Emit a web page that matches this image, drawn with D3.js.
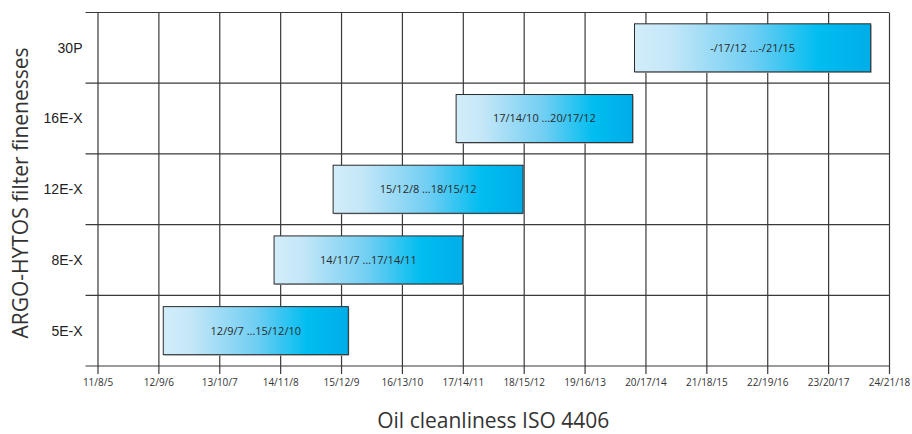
<!DOCTYPE html>
<html>
<head>
<meta charset="utf-8">
<script src="https://cdn.jsdelivr.net/npm/d3@7"></script>
<style>
  body { margin: 0; background: #fff; }
  svg { display: block; }
</style>
</head>
<body>
<svg class="rangeChart"></svg>
<script>
// ISO 4406 codes along the bottom
var isoCodes = ['11/8/5', '12/9/6', '13/10/7', '14/11/8', '15/12/9', '16/13/10', '17/14/11',
  '18/15/12', '19/16/13', '20/17/14', '21/18/15', '22/19/16', '23/20/17', '24/21/18'];

// filter finenesses, top to bottom
var filters = ['30P', '16E-X', '12E-X', '8E-X', '5E-X'];

// range start / end in code steps (0 = 11/8/5)
var rangeStart = [8.82, 5.89, 3.87, 2.90, 1.08];
var rangeEnd = [12.70, 8.79, 6.99, 6.00, 4.12];
var rangeLabels = ['-/17/12 \u2026-/21/15', '17/14/10 \u202620/17/12', '15/12/8 \u202618/15/12',
  '14/11/7 \u202617/14/11', '12/9/7 \u202615/12/10'];

var svgWidth = 912, svgHeight = 434;
var margin = { top: 12.5, right: 23, bottom: 68, left: 97.5 },
  width = svgWidth - margin.left - margin.right,
  height = svgHeight - margin.top - margin.bottom;

var svg = d3.select('.rangeChart')
  .attr('width', svgWidth)
  .attr('height', svgHeight);

var defs = svg.append('defs');
var grad = defs.append('linearGradient')
  .attr('id', 'barFill')
  .attr('x1', '0%').attr('x2', '100%')
  .attr('y1', '0%').attr('y2', '0%');
grad.append('stop').attr('offset', '0%').attr('stop-color', '#d3edfa');
grad.append('stop').attr('offset', '15%').attr('stop-color', '#c4e7f8');
grad.append('stop').attr('offset', '50%').attr('stop-color', '#70cef3');
grad.append('stop').attr('offset', '78%').attr('stop-color', '#00bdf0');
grad.append('stop').attr('offset', '100%').attr('stop-color', '#00ade8');

var chart = svg.append('g')
  .attr('transform', 'translate(' + margin.left + ',' + margin.top + ')');

var x = d3.scaleLinear()
  .domain([0, isoCodes.length - 1])
  .range([0, width]);

var y = d3.scaleBand()
  .domain(filters)
  .range([0, height])
  .paddingInner(0)
  .paddingOuter(0);

// horizontal grid lines (row boundaries)
var rowEdges = filters.map(function(f) { return y(f); }).concat([height]);
chart.selectAll('.hgrid')
  .data(rowEdges)
  .enter().append('line')
  .attr('class', 'hgrid')
  .attr('x1', -12)
  .attr('x2', width)
  .attr('y1', function(d) { return d; })
  .attr('y2', function(d) { return d; })
  .style('stroke', '#3a3a3a')
  .style('stroke-width', 1.2);

// vertical grid lines + ticks via the axis
var xAxis = chart.append('g')
  .attr('class', 'x-axis')
  .attr('transform', 'translate(0,' + height + ')')
  .call(d3.axisBottom(x)
    .tickValues(d3.range(isoCodes.length))
    .tickFormat(function(i) { return isoCodes[i]; })
    .tickSize(8)
    .tickPadding(5));

xAxis.select('.domain').remove();
xAxis.selectAll('.tick line')
  .attr('y1', -height)
  .style('stroke', '#3a3a3a')
  .style('stroke-width', 1.2);
xAxis.selectAll('.tick text')
  .style('font-family', '"Open Sans", sans-serif')
  .style('font-size', '10px')
  .style('fill', '#333');

// category labels
chart.selectAll('.cat')
  .data(filters)
  .enter().append('text')
  .attr('class', 'cat')
  .attr('x', -15)
  .attr('y', function(d) { return y(d) + y.bandwidth() / 2; })
  .attr('dy', '0.35em')
  .style('text-anchor', 'end')
  .style('font-family', '"Liberation Sans", Arial, sans-serif')
  .style('font-size', '14px')
  .style('fill', '#222')
  .text(function(d) { return d; });

var barH = y.bandwidth() * 0.68;

// range bars with slight shadow
var bars = chart.selectAll('.range')
  .data(filters)
  .enter().append('g')
  .attr('class', 'range');

bars.append('rect')
  .attr('x', function(d, i) { return x(rangeStart[i]) + 1; })
  .attr('y', function(d) { return y(d) + (y.bandwidth() - barH) / 2 + 1; })
  .attr('width', function(d, i) { return x(rangeEnd[i]) - x(rangeStart[i]); })
  .attr('height', barH)
  .style('fill', '#bbb');

bars.append('rect')
  .attr('x', function(d, i) { return x(rangeStart[i]); })
  .attr('y', function(d) { return y(d) + (y.bandwidth() - barH) / 2; })
  .attr('width', function(d, i) { return x(rangeEnd[i]) - x(rangeStart[i]); })
  .attr('height', barH)
  .style('fill', 'url(#barFill)')
  .style('stroke', '#2b2b2b')
  .style('stroke-width', 1);

bars.append('text')
  .attr('x', function(d, i) { return (x(rangeStart[i]) + x(rangeEnd[i])) / 2; })
  .attr('y', function(d) { return y(d) + y.bandwidth() / 2; })
  .attr('dy', '0.35em')
  .style('text-anchor', 'middle')
  .style('font-family', '"Open Sans", sans-serif')
  .style('font-size', '11px')
  .style('fill', '#2a2a2a')
  .text(function(d, i) { return rangeLabels[i]; });

// axis titles
svg.append('text')
  .attr('transform', 'translate(' + (margin.left + width / 2) + ',' + 428 + ')')
  .style('text-anchor', 'middle')
  .style('font-family', '"Open Sans", sans-serif')
  .style('font-size', '21px')
  .style('fill', '#333')
  .text('Oil cleanliness ISO 4406');

svg.append('text')
  .attr('transform', 'translate(28,' + 193 + ') rotate(-90)')
  .style('text-anchor', 'middle')
  .style('font-family', '"Open Sans", sans-serif')
  .style('font-size', '21px')
  .style('fill', '#333')
  .text('ARGO-HYTOS filter finenesses');
</script>
</body>
</html>
